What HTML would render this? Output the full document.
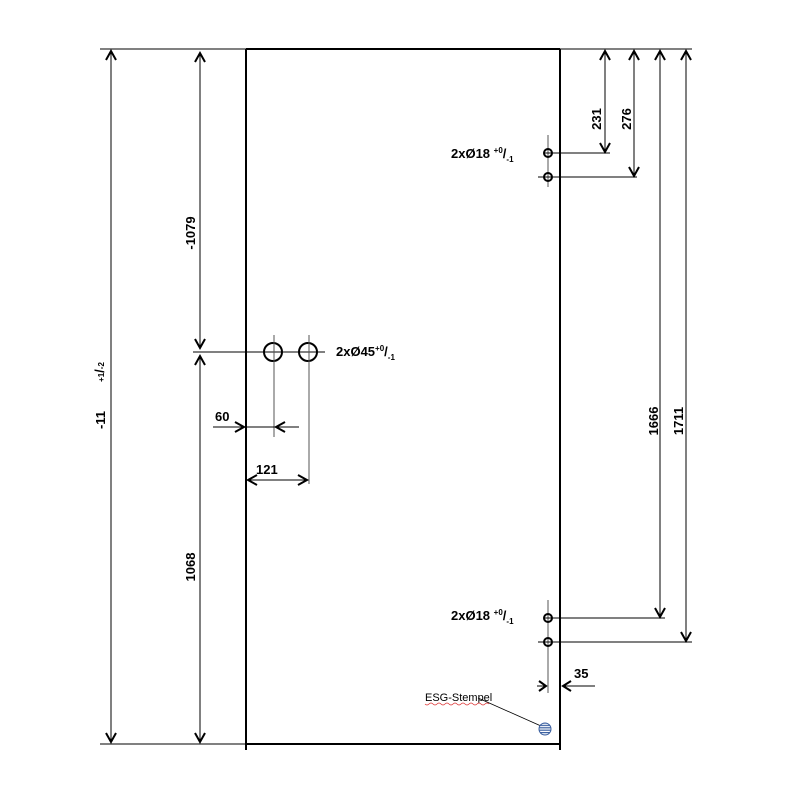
<!DOCTYPE html>
<html><head><style>body{margin:0;background:#fff}svg{display:block}text{font-family:"Liberation Sans",Arial,sans-serif;font-weight:bold;font-size:13px;fill:#000}</style></head>
<body>
<svg width="800" height="800" viewBox="0 0 800 800">
<defs>
<pattern id="st" width="4" height="2.4" patternUnits="userSpaceOnUse"><rect width="4" height="2.4" fill="#fff"/><rect width="4" height="1.2" fill="#3a5fa0"/></pattern>
</defs>
<g stroke="#000" fill="none" stroke-width="1">
<line x1="246" y1="49" x2="560" y2="49" stroke-width="2"/>
<line x1="246" y1="744" x2="560" y2="744" stroke-width="2"/>
<line x1="246" y1="49" x2="246" y2="750" stroke-width="2"/>
<line x1="560" y1="49" x2="560" y2="750" stroke-width="2"/>
<line x1="100" y1="49" x2="246" y2="49"/>
<line x1="560" y1="49" x2="692" y2="49"/>
<line x1="100" y1="744" x2="246" y2="744"/>
<line x1="111" y1="50" x2="111" y2="742"/>
<polyline points="106,60 111,51 116,60" stroke-width="2"/>
<polyline points="106,733 111,742 116,733" stroke-width="2"/>
<line x1="200" y1="52" x2="200" y2="348"/>
<polyline points="195,62 200,53 205,62" stroke-width="2"/>
<polyline points="195,339 200,348 205,339" stroke-width="2"/>
<line x1="200" y1="356" x2="200" y2="742"/>
<polyline points="195,365 200,356 205,365" stroke-width="2"/>
<polyline points="195,733 200,742 205,733" stroke-width="2"/>
<line x1="193" y1="352" x2="325" y2="352"/>
<circle cx="273" cy="352" r="9" stroke-width="2"/>
<circle cx="308" cy="352" r="9" stroke-width="2"/>
<line x1="274" y1="335" x2="274" y2="437" stroke="#555"/>
<line x1="309" y1="335" x2="309" y2="484" stroke="#555"/>
<line x1="213" y1="427" x2="243" y2="427"/>
<polyline points="235,422 244,427 235,432" stroke-width="2"/>
<line x1="246" y1="427" x2="299" y2="427"/>
<polyline points="285,422 276,427 285,432" stroke-width="2"/>
<line x1="248" y1="480" x2="307" y2="480"/>
<polyline points="257,475 248,480 257,485" stroke-width="2"/>
<polyline points="298,475 307,480 298,485" stroke-width="2"/>
<line x1="548" y1="135" x2="548" y2="187" stroke="#555"/>
<circle cx="548" cy="153" r="4" stroke-width="2"/>
<circle cx="548" cy="177" r="4" stroke-width="2"/>
<line x1="544" y1="153" x2="610" y2="153"/>
<line x1="538" y1="177" x2="637" y2="177"/>
<line x1="548" y1="600" x2="548" y2="693" stroke="#555"/>
<circle cx="548" cy="618" r="4" stroke-width="2"/>
<circle cx="548" cy="642" r="4" stroke-width="2"/>
<line x1="544" y1="618" x2="665" y2="618"/>
<line x1="538" y1="642" x2="692" y2="642"/>
<line x1="605" y1="51" x2="605" y2="152"/>
<polyline points="600,60 605,51 610,60" stroke-width="2"/>
<polyline points="600,143 605,152 610,143" stroke-width="2"/>
<line x1="634" y1="51" x2="634" y2="176"/>
<polyline points="629,60 634,51 639,60" stroke-width="2"/>
<polyline points="629,167 634,176 639,167" stroke-width="2"/>
<line x1="660" y1="51" x2="660" y2="617"/>
<polyline points="655,60 660,51 665,60" stroke-width="2"/>
<polyline points="655,608 660,617 665,608" stroke-width="2"/>
<line x1="686" y1="51" x2="686" y2="641"/>
<polyline points="681,60 686,51 691,60" stroke-width="2"/>
<polyline points="681,632 686,641 691,632" stroke-width="2"/>
<line x1="537" y1="686" x2="546" y2="686"/>
<polyline points="539,681 546,686 539,691" stroke-width="2"/>
<line x1="562" y1="686" x2="595" y2="686"/>
<polyline points="571,681 563,686 571,691" stroke-width="2"/>
<line x1="478" y1="698" x2="541" y2="726" stroke-width="0.8"/>
<circle cx="545" cy="729" r="6" fill="url(#st)" stroke="#3a5fa0"/>
</g>
<text x="451" y="158">2xØ18 <tspan font-size="8" dy="-5">+0</tspan><tspan dy="5">/</tspan><tspan font-size="8" dy="4">-1</tspan></text>
<text x="451" y="620">2xØ18 <tspan font-size="8" dy="-5">+0</tspan><tspan dy="5">/</tspan><tspan font-size="8" dy="4">-1</tspan></text>
<text x="336" y="356">2xØ45<tspan font-size="8" dy="-5">+0</tspan><tspan dy="5">/</tspan><tspan font-size="8" dy="4">-1</tspan></text>
<text x="215" y="421">60</text>
<text x="256" y="474">121</text>
<text x="574" y="678">35</text>
<text x="425" y="701" style="font-weight:normal;font-size:11px">ESG-Stempel</text>
<path d="M425 704 q2 2 4 0 t4 0 t4 0 t4 0 t4 0 t4 0 t4 0 t4 0 t4 0 t4 0 t4 0 t4 0 t4 0 t4 0 t4 0 t4 0" stroke="#d33" fill="none" stroke-width="0.7"/>
<text transform="translate(195,233) rotate(-90)" text-anchor="middle">-1079</text>
<text transform="translate(195,567) rotate(-90)" text-anchor="middle">1068</text>
<text transform="translate(105,420) rotate(-90)" text-anchor="middle">-11</text>
<text transform="translate(104,372) rotate(-90)" text-anchor="middle"><tspan font-size="8">+1</tspan>/<tspan font-size="8">-2</tspan></text>
<text transform="translate(601,119) rotate(-90)" text-anchor="middle">231</text>
<text transform="translate(631,119) rotate(-90)" text-anchor="middle">276</text>
<text transform="translate(658,421) rotate(-90)" text-anchor="middle">1666</text>
<text transform="translate(683,421) rotate(-90)" text-anchor="middle">1711</text>
</svg>
</body></html>
